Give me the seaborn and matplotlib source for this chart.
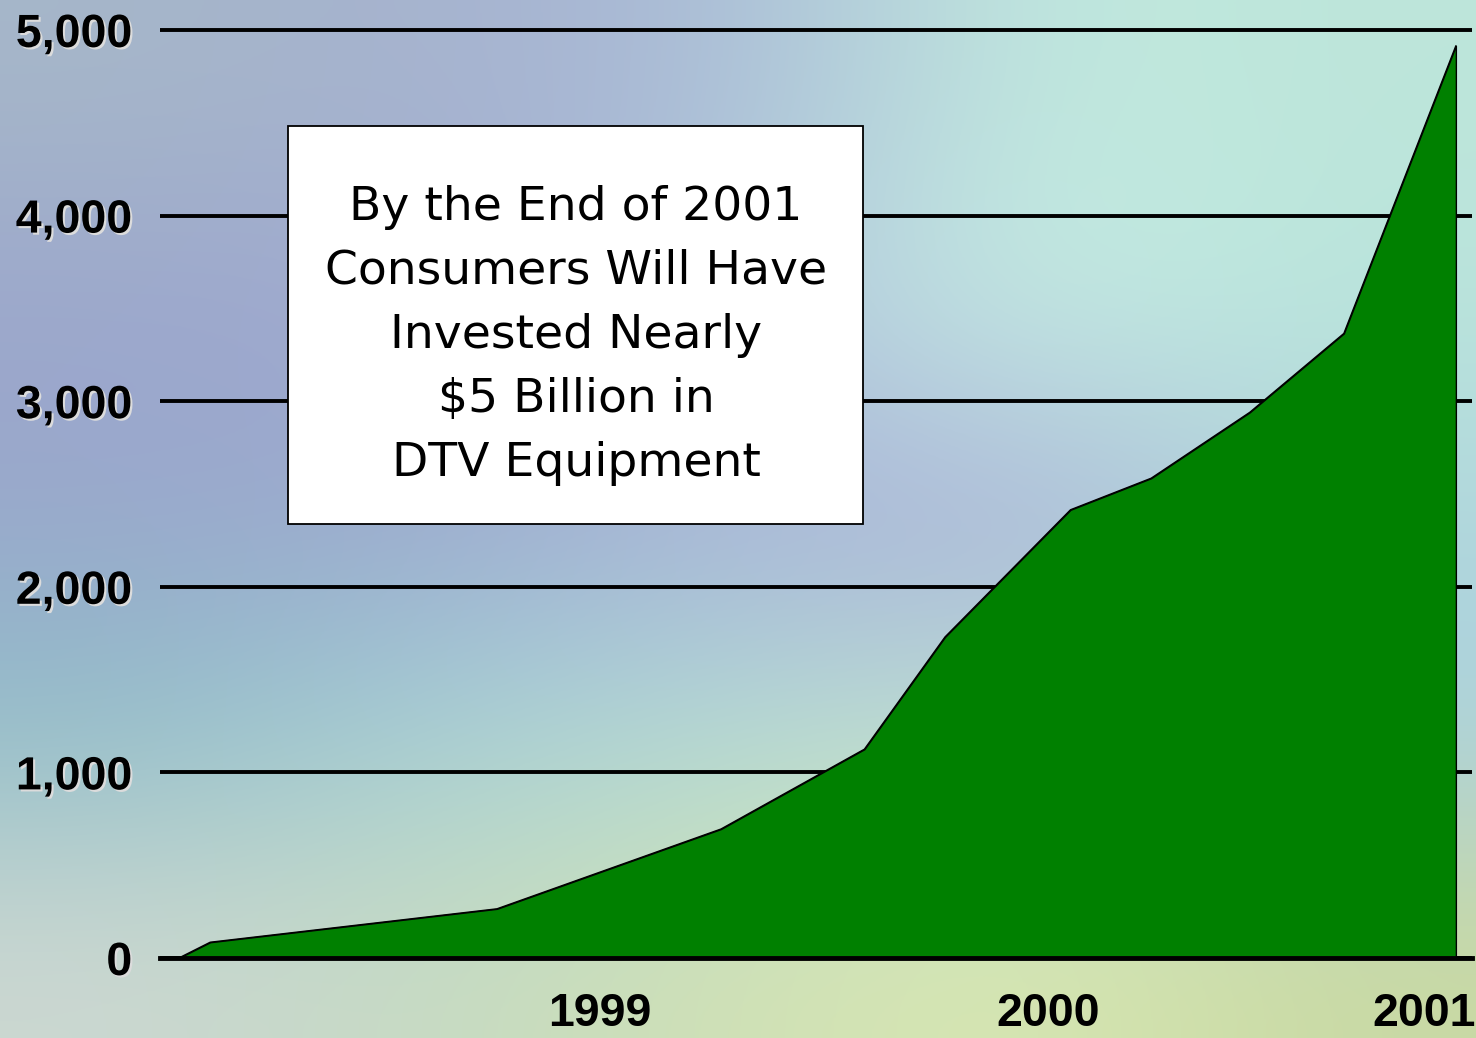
import numpy as np
import pandas as pd
import matplotlib
matplotlib.use("Agg")
import matplotlib.pyplot as plt
import matplotlib.patheffects as pe
from matplotlib.patches import Rectangle
import seaborn as sns

# data (x in fractional years, y in $ millions)
period = [1998.06, 1998.13, 1998.77, 1999.27, 1999.59, 1999.77,
          2000.05, 2000.23, 2000.45, 2000.66, 2000.91]
invested = [0, 85, 265, 695, 1125, 1730, 2415, 2585, 2940, 3365, 4915]

y_ticks = [0, 1000, 2000, 3000, 4000, 5000]
y_tick_labels = ["0", "1,000", "2,000", "3,000", "4,000", "5,000"]
x_ticks = [1999.0, 2000.0, 2000.84]
x_tick_labels = ["1999", "2000", "2001"]

note_lines = ["By the End of 2001", "Consumers Will Have", "Invested Nearly",
              "$5 Billion in", "DTV Equipment"]

df = pd.DataFrame({"period": period, "invested": invested})

sns.set_theme(style="white")
plt.rcParams["font.family"] = ["Liberation Sans", "DejaVu Sans"]

W, H = 1476, 1038
fig = plt.figure(figsize=(W / 100, H / 100), dpi=100)

# soft background wash
bg = fig.add_axes([0, 0, 1, 1], zorder=-10)
bg_colors = [
    ["#a6b7c9", "#a6b2cf", "#abbdd8", "#c2ebdf", "#bde5da"],
    ["#9ba6cc", "#a0a9d0", "#b2c9dd", "#c9f1e5", "#b9e4dc"],
    ["#9aa8cc", "#9aa9cd", "#a9b4d8", "#a9add7", "#b1d8dc"],
    ["#8fbec8", "#a6d2d8", "#b2dcd8", "#bfe3d6", "#aad0e0"],
    ["#cdd8d2", "#c6dbc2", "#d1e1b3", "#d9e8b2", "#c9d9a2"],
]
rgb = np.array([[matplotlib.colors.to_rgb(c) for c in row] for row in bg_colors])
bg.imshow(rgb, aspect="auto", interpolation="bicubic", extent=[0, 1, 0, 1])
bg.set_axis_off()

ax = fig.add_axes([160 / W, (H - 958) / H, 1312 / W, (958 - 20.7) / H])
ax.set_facecolor("none")

ax.fill_between(df["period"], df["invested"], color="#008000",
                edgecolor="black", linewidth=1.0, zorder=1)
sns.lineplot(data=df, x="period", y="invested", ax=ax, color="black",
             linewidth=1.0, zorder=2)

ax.set_xlim(1998.018, 2000.946)
ax.set_ylim(0, 5050)

ax.set_yticks(y_ticks)
ax.set_yticklabels(y_tick_labels)
ax.set_xticks(x_ticks)
ax.set_xticklabels(x_tick_labels)

ax.grid(axis="y", color="black", linewidth=2.8)
ax.grid(axis="x", visible=False)
ax.set_axisbelow(True)

for side in ["top", "left", "right"]:
    ax.spines[side].set_visible(False)
ax.spines["bottom"].set_color("black")
ax.spines["bottom"].set_linewidth(3.5)
ax.spines["bottom"].set_zorder(3)

shadow = [pe.withSimplePatchShadow(offset=(1.5, -1.5), shadow_rgbFace="#dcdcdc", alpha=1.0)]
ax.tick_params(axis="y", length=0, pad=20, labelsize=33.5, labelcolor="black")
ax.tick_params(axis="x", length=0, pad=24.5, labelsize=33.5, labelcolor="black")
for lab in ax.get_yticklabels():
    lab.set_fontweight("bold")
    lab.set_path_effects(shadow)
for lab in ax.get_xticklabels():
    lab.set_fontweight("bold")

ax.set_xlabel("")
ax.set_ylabel("")

# white call-out box
box = Rectangle((288 / W, (H - 524) / H), 575 / W, 398 / H, transform=fig.transFigure,
                facecolor="white", edgecolor="black", linewidth=1.3, zorder=5)
fig.patches.append(box)
for i, line in enumerate(note_lines):
    fig.text(576 / W, 1 - (220 + 64 * i) / H, line, ha="center", va="baseline",
             fontsize=34, family=["DejaVu Sans"], color="black", zorder=6)

fig.savefig("out.png", dpi=100)
